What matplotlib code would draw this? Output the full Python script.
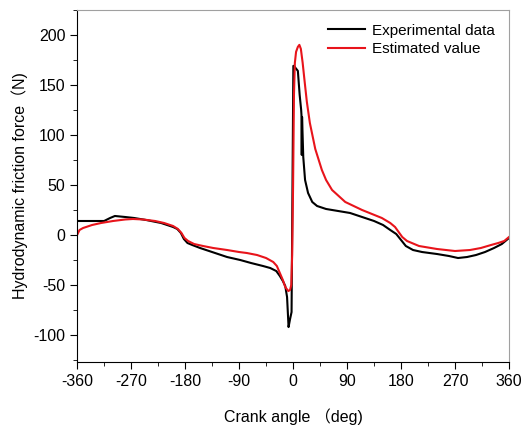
import numpy as np
import matplotlib.pyplot as plt

plt.rcParams['font.family'] = ['Liberation Sans', 'Noto Sans CJK SC', 'DejaVu Sans']
plt.rcParams['axes.unicode_minus'] = False

exp_angle = [-360, -340, -315, -305, -297, -280, -265, -245, -220, -200, -193, -187,
             -182, -176, -168, -155, -135, -110, -88, -70, -50, -38, -28, -22, -17,
             -13, -10, -7.5, -5, -2.5, 0.5, 1.5, 4, 8, 11, 13.5, 14, 14.5, 15, 17, 20,
             25, 32, 40, 55, 75, 95, 115, 135, 150, 162, 172, 180, 188, 200, 215,
             240, 260, 275, 290, 305, 320, 335, 348, 360]
exp_force = [14, 14, 14, 17, 19, 18, 17, 15, 12, 8, 6, 2,
             -4, -8, -10, -13, -17, -22, -25, -28, -31, -33, -36, -41, -46,
             -51, -62, -92, -84, -77, 169, 169, 167, 164, 140, 125, 120, 80, 118, 78, 55,
             42, 33, 29, 26, 24, 22, 18, 14, 10, 5, 1, -5, -11, -15, -17,
             -19, -21, -23, -22, -20, -17, -13, -9, -3]

# estimated values
est_angle = [-360, -356, -350, -335, -320, -300, -280, -267, -250, -230, -215, -200,
             -192, -186, -181, -175, -165, -150, -133, -110, -90, -77, -60, -45, -33,
             -27, -22, -17, -13, -8, -5, -3, -1.5, 0, 1.5, 3, 5, 8, 10.5, 13, 16, 19, 23,
             28, 37, 48, 55, 65, 87, 115, 148, 162, 170, 176, 182, 190, 198, 210,
             240, 270, 295, 313, 330, 342, 352, 360]
est_force = [0, 5, 7, 10, 12, 14, 15.5, 16, 15.5, 14, 12, 9,
             6, 2, -3, -6, -9, -11, -13, -15, -17, -18, -20, -23, -27,
             -31, -38, -45, -52, -56, -55, -50, -20, 48, 140, 172, 183, 188, 190, 186, 172, 155, 133,
             112, 86, 65, 55, 45, 33, 25, 17, 12, 8, 3, -2, -6, -8, -11,
             -14, -16, -15, -13, -10, -8, -6, -2]

fig = plt.figure(figsize=(5.21, 4.28), dpi=100)
ax = fig.add_axes([0.148, 0.154, 0.829, 0.823])

ax.plot(exp_angle, exp_force, color='black', lw=1.5, label='Experimental data')
ax.plot(est_angle, est_force, color='#e8141b', lw=1.5, label='Estimated value')

ax.set_xlim(-360, 360)
ax.set_ylim(-127, 225)
ax.set_xticks(np.arange(-360, 361, 90))
ax.set_xticks(np.arange(-360, 361, 45), minor=True)
ax.set_yticks(np.arange(-100, 201, 50))
ax.set_yticks(np.arange(-125, 226, 25), minor=True)

for s in ['top', 'right']:
    ax.spines[s].set_color('#a0a0a0')
for s in ['left', 'bottom']:
    ax.spines[s].set_color('black')
ax.tick_params(which='both', direction='out', top=False, right=False, labelsize=11.5)
ax.tick_params(which='major', length=5)
ax.tick_params(which='minor', length=3)

ax.set_xlabel('Crank angle （deg)', fontsize=11.5, labelpad=14)
ax.set_ylabel('Hydrodynamic friction force（N)', fontsize=11.5, labelpad=4)

ax.legend(loc='upper right', frameon=False, fontsize=11, handlelength=2.4,
          handletextpad=0.5, borderaxespad=0.5, labelspacing=0.3)

plt.savefig('out.png', dpi=100)
